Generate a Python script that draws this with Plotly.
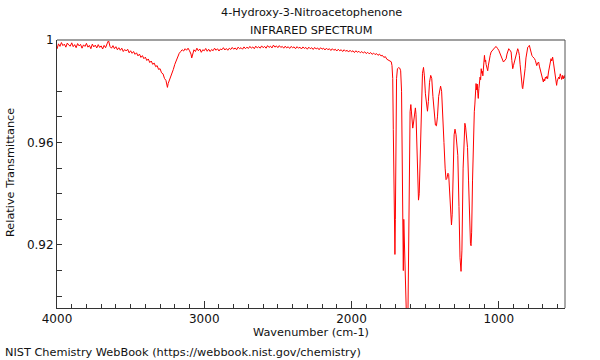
import plotly.graph_objects as go

# Wavenumber (cm-1) and relative transmittance
wavenumber = [
    4000, 3990, 3980, 3970, 3960, 3950, 3940, 3930, 3920, 3910, 3900, 3890, 3880, 3870, 3860, 3850,
    3840, 3830, 3820, 3810, 3800, 3790, 3780, 3770, 3760, 3750, 3740, 3730, 3720, 3710, 3700, 3690,
    3680, 3670, 3660, 3650, 3640, 3630, 3620, 3610, 3600, 3590, 3580, 3570, 3560, 3550, 3540, 3530,
    3520, 3510, 3500, 3490, 3480, 3470, 3460, 3450, 3440, 3430, 3420, 3410, 3400, 3390, 3380, 3370,
    3360, 3350, 3340, 3330, 3320, 3310, 3300, 3290, 3280, 3270, 3260, 3255, 3250, 3245, 3240, 3230,
    3220, 3210, 3200, 3190, 3180, 3170, 3160, 3150, 3140, 3130, 3120, 3110, 3100, 3090, 3085, 3080,
    3070, 3060, 3050, 3040, 3030, 3020, 3010, 3000, 2990, 2980, 2970, 2960, 2950, 2940, 2930, 2920,
    2910, 2900, 2890, 2880, 2870, 2860, 2850, 2840, 2830, 2820, 2810, 2800, 2790, 2780, 2770, 2760,
    2750, 2740, 2730, 2720, 2710, 2700, 2690, 2680, 2670, 2660, 2650, 2640, 2630, 2620, 2610, 2600,
    2590, 2580, 2570, 2560, 2550, 2540, 2530, 2520, 2510, 2500, 2490, 2480, 2470, 2460, 2450, 2440,
    2430, 2420, 2410, 2400, 2390, 2380, 2370, 2360, 2350, 2340, 2330, 2320, 2310, 2300, 2290, 2280,
    2270, 2260, 2250, 2240, 2230, 2220, 2210, 2200, 2190, 2180, 2170, 2160, 2150, 2140, 2130, 2120,
    2110, 2100, 2090, 2080, 2070, 2060, 2050, 2040, 2030, 2020, 2010, 2000, 1990, 1980, 1970, 1960,
    1950, 1940, 1930, 1920, 1910, 1900, 1890, 1880, 1870, 1860, 1850, 1840, 1830, 1820, 1810, 1800,
    1790, 1780, 1770, 1760, 1750, 1740, 1730, 1725, 1720, 1716, 1712, 1708, 1705, 1702, 1698, 1694,
    1688, 1680, 1672, 1666, 1660, 1654, 1648, 1645, 1638, 1630, 1622, 1618, 1614, 1608, 1602, 1597,
    1592, 1588, 1584, 1578, 1572, 1566, 1562, 1556, 1550, 1545, 1540, 1534, 1526, 1518, 1511, 1505,
    1498, 1490, 1484, 1478, 1470, 1462, 1455, 1447, 1438, 1430, 1423, 1416, 1408, 1400, 1395, 1388,
    1380, 1372, 1364, 1358, 1352, 1345, 1340, 1334, 1327, 1321, 1316, 1310, 1303, 1297, 1290, 1284,
    1278, 1270, 1263, 1256, 1250, 1242, 1236, 1230, 1225, 1218, 1212, 1205, 1198, 1192, 1188, 1184,
    1178, 1172, 1166, 1162, 1158, 1154, 1150, 1146, 1142, 1139, 1135, 1131, 1127, 1123, 1119, 1115,
    1111, 1108, 1104, 1100, 1097, 1093, 1089, 1086, 1082, 1078, 1075, 1070, 1066, 1063, 1058, 1052,
    1046, 1040, 1036, 1030, 1024, 1018, 1012, 1007, 1000, 995, 990, 984, 978, 972, 968, 962,
    956, 950, 944, 938, 932, 926, 921, 916, 911, 905, 900, 894, 889, 882, 876, 871,
    865, 860, 855, 850, 844, 840, 837, 832, 826, 821, 815, 809, 803, 797, 792, 786,
    780, 775, 770, 765, 758, 751, 746, 742, 736, 729, 724, 719, 713, 707, 702, 697,
    692, 688, 683, 678, 673, 668, 662, 656, 650, 645, 640, 634, 628, 622, 616, 611,
    607, 603, 598, 593, 588, 582, 577, 573, 570, 566, 562, 558, 554, 550,
]

transmittance = [
    0.9965, 0.9985, 0.9975, 0.9990, 0.9978, 0.9984, 0.9972, 0.9988, 0.9980, 0.9976, 0.9989, 0.9974, 0.9982, 0.9970, 0.9986, 0.9977,
    0.9983, 0.9968, 0.9981, 0.9975, 0.9987, 0.9972, 0.9979, 0.9966, 0.9984, 0.9973, 0.9980, 0.9969, 0.9982, 0.9971, 0.9977, 0.9965,
    0.9979, 0.9970, 0.9985, 0.9998, 0.9975, 0.9968, 0.9978, 0.9966, 0.9974, 0.9962, 0.9970, 0.9960, 0.9968, 0.9955, 0.9963, 0.9957,
    0.9964, 0.9950, 0.9958, 0.9948, 0.9955, 0.9944, 0.9950, 0.9938, 0.9945, 0.9932, 0.9939, 0.9927, 0.9933, 0.9920, 0.9926, 0.9912,
    0.9918, 0.9905, 0.9910, 0.9896, 0.9900, 0.9885, 0.9888, 0.9872, 0.9868, 0.9850, 0.9842, 0.9825, 0.9815, 0.9830, 0.9838, 0.9848,
    0.9868, 0.9885, 0.9905, 0.9920, 0.9935, 0.9948, 0.9955, 0.9962, 0.9957, 0.9966, 0.9960, 0.9968, 0.9958, 0.9945, 0.9930, 0.9942,
    0.9962, 0.9955, 0.9968, 0.9958, 0.9965, 0.9952, 0.9962, 0.9958, 0.9967, 0.9956, 0.9964, 0.9955, 0.9963, 0.9958, 0.9968, 0.9960,
    0.9966, 0.9957, 0.9965, 0.9962, 0.9970, 0.9961, 0.9967, 0.9960, 0.9968, 0.9963, 0.9971, 0.9964, 0.9969, 0.9962, 0.9972, 0.9966,
    0.9970, 0.9964, 0.9973, 0.9966, 0.9972, 0.9967, 0.9975, 0.9968, 0.9973, 0.9966, 0.9976, 0.9969, 0.9974, 0.9968, 0.9977, 0.9970,
    0.9975, 0.9968, 0.9978, 0.9971, 0.9976, 0.9969, 0.9980, 0.9972, 0.9977, 0.9970, 0.9978, 0.9971, 0.9975, 0.9968, 0.9976, 0.9969,
    0.9974, 0.9967, 0.9975, 0.9970, 0.9973, 0.9966, 0.9974, 0.9968, 0.9972, 0.9965, 0.9973, 0.9967, 0.9971, 0.9964, 0.9972, 0.9966,
    0.9970, 0.9963, 0.9971, 0.9965, 0.9969, 0.9962, 0.9970, 0.9964, 0.9968, 0.9961, 0.9968, 0.9962, 0.9966, 0.9959, 0.9966, 0.9960,
    0.9964, 0.9957, 0.9964, 0.9958, 0.9962, 0.9955, 0.9962, 0.9956, 0.9960, 0.9953, 0.9960, 0.9954, 0.9958, 0.9951, 0.9958, 0.9952,
    0.9956, 0.9950, 0.9955, 0.9949, 0.9954, 0.9947, 0.9952, 0.9946, 0.9951, 0.9944, 0.9949, 0.9943, 0.9947, 0.9940, 0.9945, 0.9938,
    0.9940, 0.9932, 0.9935, 0.9925, 0.9922, 0.9920, 0.9915, 0.9900, 0.9850, 0.9650, 0.9350, 0.9180, 0.9163, 0.9300, 0.9650, 0.9850,
    0.9888, 0.9892, 0.9890, 0.9880, 0.9800, 0.9500, 0.9100, 0.9300, 0.9050, 0.8900, 0.8820, 0.8850, 0.9100, 0.9500, 0.9720, 0.9748,
    0.9720, 0.9670, 0.9656, 0.9680, 0.9725, 0.9735, 0.9710, 0.9580, 0.9430, 0.9375, 0.9400, 0.9550, 0.9750, 0.9870, 0.9893, 0.9860,
    0.9790, 0.9735, 0.9722, 0.9760, 0.9835, 0.9862, 0.9850, 0.9780, 0.9700, 0.9668, 0.9665, 0.9700, 0.9780, 0.9815, 0.9820, 0.9800,
    0.9720, 0.9600, 0.9500, 0.9455, 0.9460, 0.9480, 0.9475, 0.9400, 0.9300, 0.9278, 0.9320, 0.9500, 0.9630, 0.9652, 0.9630, 0.9590,
    0.9550, 0.9350, 0.9150, 0.9097, 0.9180, 0.9500, 0.9630, 0.9675, 0.9660, 0.9600, 0.9580, 0.9450, 0.9280, 0.9205, 0.9197, 0.9250,
    0.9450, 0.9650, 0.9720, 0.9750, 0.9815, 0.9830, 0.9805, 0.9828, 0.9790, 0.9772, 0.9810, 0.9832, 0.9855, 0.9845, 0.9888, 0.9870,
    0.9878, 0.9860, 0.9905, 0.9925, 0.9940, 0.9915, 0.9922, 0.9905, 0.9898, 0.9885, 0.9880, 0.9902, 0.9918, 0.9920, 0.9940, 0.9953,
    0.9958, 0.9962, 0.9966, 0.9970, 0.9972, 0.9975, 0.9972, 0.9966, 0.9960, 0.9952, 0.9946, 0.9938, 0.9928, 0.9918, 0.9914, 0.9918,
    0.9924, 0.9927, 0.9945, 0.9958, 0.9966, 0.9962, 0.9957, 0.9953, 0.9920, 0.9888, 0.9900, 0.9915, 0.9927, 0.9945, 0.9960, 0.9966,
    0.9955, 0.9940, 0.9905, 0.9860, 0.9835, 0.9815, 0.9810, 0.9830, 0.9870, 0.9888, 0.9930, 0.9955, 0.9972, 0.9975, 0.9979, 0.9965,
    0.9946, 0.9940, 0.9935, 0.9933, 0.9928, 0.9920, 0.9912, 0.9900, 0.9910, 0.9914, 0.9898, 0.9885, 0.9875, 0.9860, 0.9845, 0.9836,
    0.9848, 0.9840, 0.9855, 0.9850, 0.9858, 0.9849, 0.9875, 0.9900, 0.9915, 0.9927, 0.9918, 0.9933, 0.9910, 0.9888, 0.9860, 0.9835,
    0.9823, 0.9840, 0.9852, 0.9855, 0.9848, 0.9868, 0.9858, 0.9846, 0.9850, 0.9862, 0.9848, 0.9858, 0.9852, 0.9864,
]

x_major_ticks = [4000, 3000, 2000, 1000]
x_minor_ticks = [w for w in range(3900, 549, -100) if w % 1000 != 0]
y_major_ticks = [1.0, 0.96, 0.92]
y_major_labels = ["1", "0.96", "0.92"]
y_minor_ticks = [0.98, 0.97, 0.95, 0.94, 0.93, 0.91, 0.90]

title_line1 = "4-Hydroxy-3-Nitroacetophenone"
title_line2 = "INFRARED SPECTRUM"
x_title = "Wavenumber (cm-1)"
y_title = "Relative Transmittance"
footer = "NIST Chemistry WebBook (https://webbook.nist.gov/chemistry)"

FONT = "DejaVu Sans"
AXC = "#333333"
TXT = 11.3

fig = go.Figure(go.Scatter(x=wavenumber, y=transmittance, mode="lines",
                           line=dict(color="#ff0000", width=1), hoverinfo="skip"))

fig.update_layout(
    width=600, height=360,
    margin=dict(l=57, r=35, t=40, b=52),
    paper_bgcolor="white", plot_bgcolor="white",
    showlegend=False,
    font=dict(family=FONT, size=12, color="#111"),
    xaxis=dict(range=[4000, 550], tickmode="array", tickvals=x_major_ticks,
               ticks="inside", ticklen=7, tickwidth=1, tickcolor=AXC,
               minor=dict(tickmode="array", tickvals=x_minor_ticks, ticks="inside", ticklen=4, tickcolor=AXC),
               showline=True, linecolor=AXC, linewidth=1, mirror=False,
               showgrid=False, zeroline=False, tickfont=dict(size=12)),
    yaxis=dict(range=[0.8954, 1.0], tickmode="array", tickvals=y_major_ticks, ticktext=y_major_labels,
               ticks="inside", ticklen=5, tickwidth=1, tickcolor=AXC,
               minor=dict(tickmode="array", tickvals=y_minor_ticks, ticks="inside", ticklen=5, tickcolor=AXC),
               showline=True, linecolor=AXC, linewidth=1, mirror=False,
               showgrid=False, zeroline=False, tickfont=dict(size=12)),
    shapes=[
        dict(type="line", xref="paper", yref="paper", x0=0, x1=1, y0=1, y1=1,
             line=dict(color="#a0a0a0", width=2)),
        dict(type="line", xref="paper", yref="paper", x0=1, x1=1, y0=0, y1=1,
             line=dict(color="#555555", width=1)),
    ],
    annotations=[
        dict(text=title_line1, xref="paper", yref="paper", x=0.5, y=(308 - 13) / 268,
             xanchor="center", yanchor="middle", showarrow=False, font=dict(size=TXT)),
        dict(text=title_line2, xref="paper", yref="paper", x=0.5, y=(308 - 30) / 268,
             xanchor="center", yanchor="middle", showarrow=False, font=dict(size=TXT)),
        dict(text=x_title, xref="paper", yref="paper", x=0.5, y=(308 - 332) / 268,
             xanchor="center", yanchor="middle", showarrow=False, font=dict(size=TXT)),
        dict(text=y_title, xref="paper", yref="paper", x=(10 - 57) / 508, y=(308 - 173) / 268,
             xanchor="center", yanchor="middle", textangle=-90, showarrow=False, font=dict(size=TXT)),
        dict(text=footer, xref="paper", yref="paper", x=(3 - 57) / 508, y=(308 - 352) / 268,
             xanchor="left", yanchor="middle", showarrow=False, font=dict(size=TXT)),
    ],
)

fig.write_html("out.html", config={"displayModeBar": False},
               post_script="document.body.style.margin='0';document.body.style.padding='0';")
